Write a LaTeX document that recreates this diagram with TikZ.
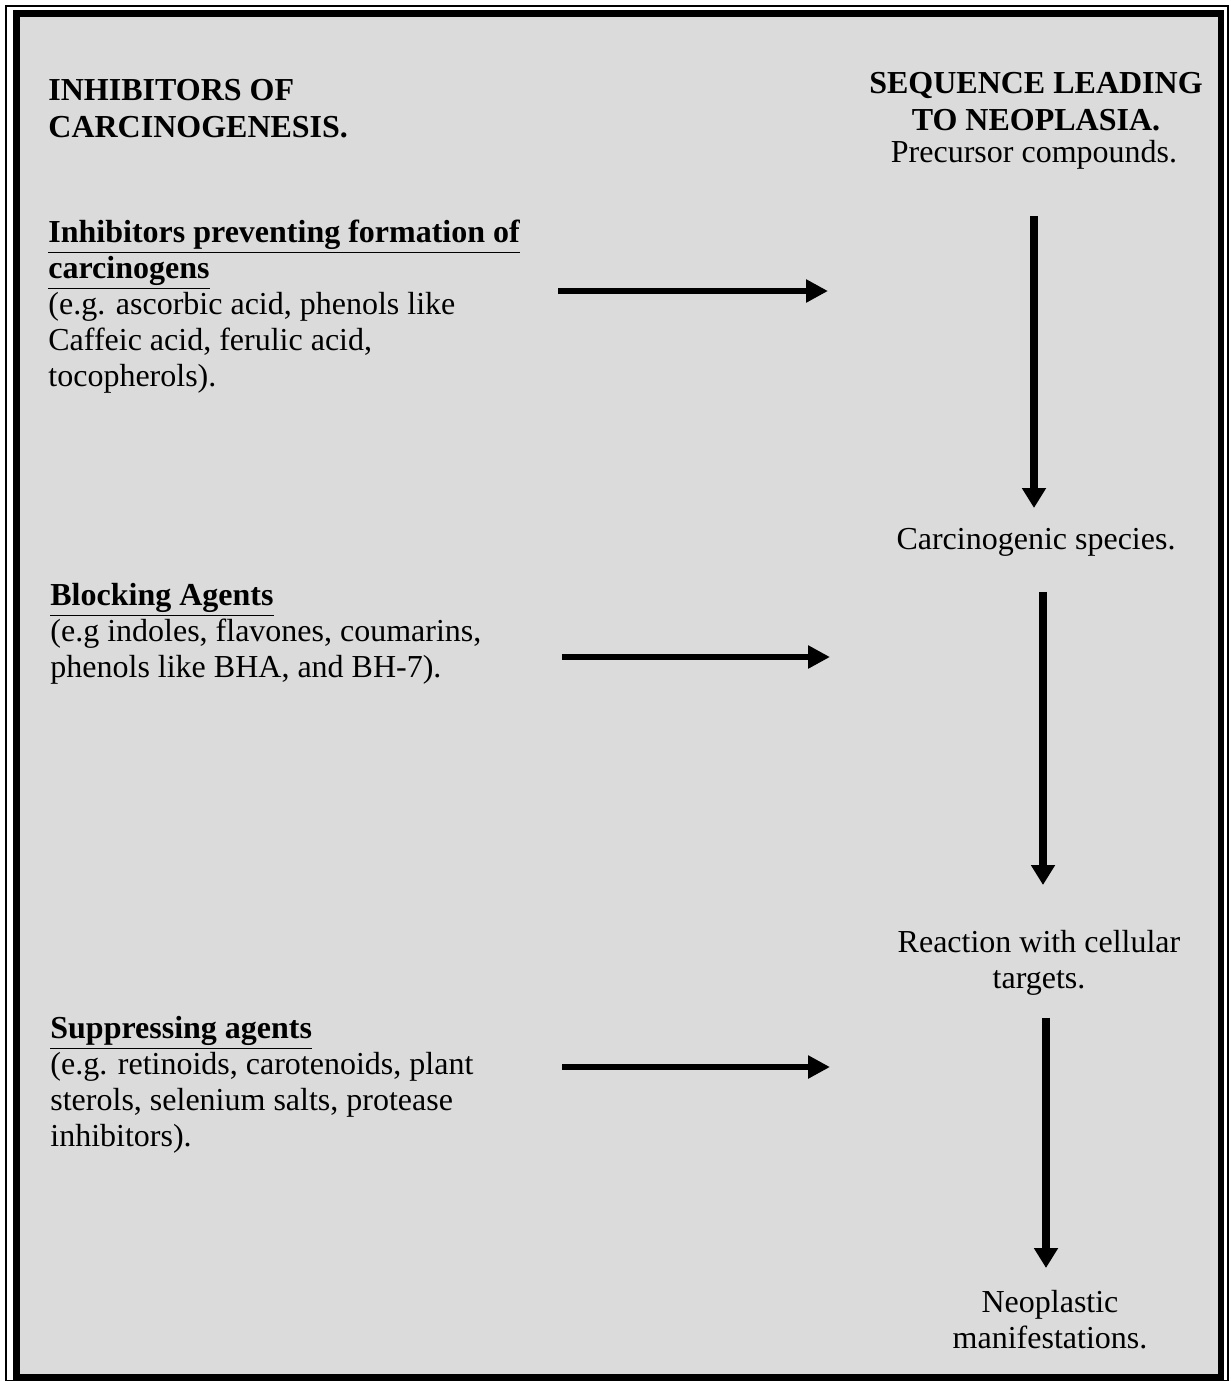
\documentclass[tikz,border=0pt]{standalone}
\usepackage{fontspec}
\setmainfont{Liberation Serif}
\usetikzlibrary{arrows.meta}

\begin{document}
\begin{tikzpicture}[x=0.5pt,y=-0.5pt,inner sep=0pt,
                    font=\fontsize{16}{18}\selectfont]
  \tikzstyle{heading}=[font=\fontsize{16}{18.5}\selectfont\bfseries]
  \tikzstyle{item}=[anchor=north west,align=left]
  \tikzstyle{stage}=[anchor=north,align=center]
  \tikzstyle{harrow}=[-{Triangle[length=11pt,width=11pt]},line width=3.25pt]
  \tikzstyle{varrow}=[-{Triangle[length=10pt,width=11.5pt]},line width=4pt]

  \useasboundingbox (0,0) rectangle (1231,1381);
  \draw[line width=1pt] (6,6) rectangle (1228,1381);
  \draw[line width=3.25pt,fill=black!14] (16.5,13.5) rectangle (1221,1377);

  % column headings
  \node[heading,anchor=north west,align=left] (inhib) at (48,79) {INHIBITORS OF\\CARCINOGENESIS.};
  \node[heading,anchor=north,align=center]    (seq)   at (1036,72) {SEQUENCE LEADING\\TO NEOPLASIA.};

  % sequence
  \node[stage] (prec)  at (1034,140)  {Precursor compounds.};
  \node[stage] (carc)  at (1036,528)  {Carcinogenic species.};
  \node[stage] (react) at (1039,930)  {Reaction with cellular\\targets.};
  \node[stage] (neo)   at (1050,1290) {Neoplastic\\manifestations.};

  % inhibitors
  \node[item] (prev)  at (48,220)  {\textbf{\underline{Inhibitors preventing formation of}}\\\textbf{\underline{carcinogens}}\\(e.g. ascorbic acid, phenols like\\Caffeic acid, ferulic acid,\\tocopherols).};
  \node[item] (block) at (50,583)  {\textbf{\underline{Blocking Agents}}\\(e.g indoles, flavones, coumarins,\\phenols like BHA, and BH-7).};
  \node[item] (supp)  at (50,1016) {\textbf{\underline{Suppressing agents}}\\(e.g. retinoids, carotenoids, plant\\sterols, selenium salts, protease\\inhibitors).};

  \coordinate (p1) at (558,291);  \coordinate (q1) at (828,291);
  \coordinate (p2) at (562,657);  \coordinate (q2) at (830,657);
  \coordinate (p3) at (562,1067); \coordinate (q3) at (830,1067);

  \draw[harrow] (p1) -- (q1);
  \draw[harrow] (p2) -- (q2);
  \draw[harrow] (p3) -- (q3);

  \draw[varrow,shorten <=23pt,shorten >=10pt] (prec.south) -- (prec.south |- carc.north);
  \draw[varrow,shorten <=17.5pt,shorten >=22.5pt] ([xshift=3.5pt]carc.south) -- ([xshift=3.5pt]carc.south |- react.north);
  \draw[varrow,shorten <=11pt,shorten >=11pt] ([xshift=3.5pt]react.south) -- ([xshift=3.5pt]react.south |- neo.north);
\end{tikzpicture}
\end{document}
